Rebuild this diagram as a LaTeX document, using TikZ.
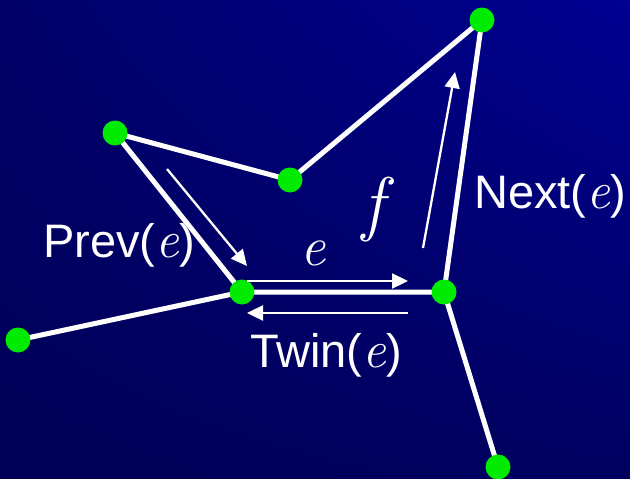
\documentclass[tikz,border=0pt]{standalone}
\usepackage{fontspec}
\setmainfont{Liberation Sans}
\newfontfamily\lmfont{Latin Modern Roman}[Scale=1.12]
\newcommand{\itvar}[1]{{\lmfont\itshape #1}}
\usepackage{tikz}
\usetikzlibrary{arrows.meta,backgrounds,shadings}
\usepackage{xcolor}
\definecolor{vgreen}{RGB}{0,235,0}
\definecolor{bgTL}{RGB}{0,0,104}
\definecolor{bgTR}{RGB}{0,0,146}
\definecolor{bgBL}{RGB}{0,0,86}
\definecolor{bgBR}{RGB}{0,0,96}

\begin{document}
\begin{tikzpicture}[x=1pt, y=-1pt,
  vtx/.style={circle, fill=vgreen, minimum size=25pt, inner sep=0pt},
  edge/.style={white, line width=5pt},
  half/.style={white, line width=2.3pt, -{Triangle[length=16pt, width=15pt]}},
  lbl/.style={white, inner sep=0pt, font=\fontsize{47}{56}\selectfont}
]
\useasboundingbox (0,0) rectangle (630,479);
\begin{scope}[on background layer]
\shade[upper left=bgTL, upper right=bgTR, lower left=bgBL, lower right=bgBR] (0,0) rectangle (630,479);
\end{scope}

% vertices
\node[vtx] (vA) at (115,133) {};
\node[vtx] (vB) at (290,180) {};
\node[vtx] (vC) at (482,20) {};
\node[vtx] (vD) at (242,292) {};
\node[vtx] (vE) at (444,292) {};
\node[vtx] (vF) at (18,340) {};
\node[vtx] (vG) at (498,467) {};

% edges of the subdivision
\begin{scope}[on background layer]
\draw[edge] (vA.center) -- (vB.center) -- (vC.center) -- (vE.center) -- (vD.center) -- (vA.center);
\draw[edge] (vD.center) -- (vF.center);
\draw[edge] (vE.center) -- (vG.center);
\end{scope}

% half-edges
\coordinate (prevS) at (167,169);
\coordinate (prevT) at (247,266);
\coordinate (eS) at (247,281);
\coordinate (eT) at (408,281);
\coordinate (twinS) at (408,313);
\coordinate (twinT) at (247,313);
\coordinate (nextS) at (423,248);
\coordinate (nextT) at (455,72);
\draw[half] (prevS) -- (prevT);
\draw[half] (eS) -- (eT);
\draw[half] (twinS) -- (twinT);
\draw[half] (nextS) -- (nextT);

% labels
\node[lbl, anchor=base west] (prevLbl) at (43,257) {Prev(\itvar{e})};
\node[lbl, anchor=base west] (nextLbl) at (474,208) {Next(\itvar{e})};
\node[lbl, anchor=base west] (twinLbl) at (250,367) {Twin(\itvar{e})};
\node[lbl, anchor=base, font=\fontsize{50}{60}\selectfont] (eLbl) at (313,265) {\itvar{e}};
\node[lbl, font=\fontsize{64}{72}\selectfont] (fLbl) at (373,210) {\itvar{f}};
\end{tikzpicture}
\end{document}
